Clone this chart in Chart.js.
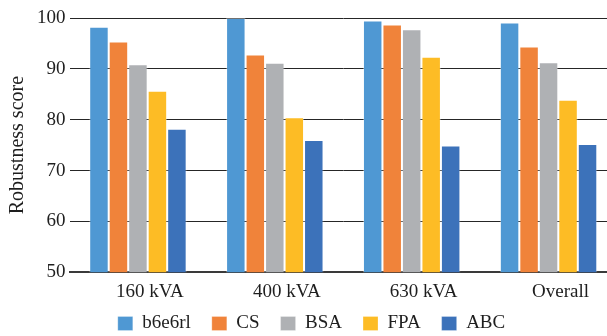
<!DOCTYPE html>
<html>
<head>
<meta charset="utf-8">
<script src="https://cdn.jsdelivr.net/npm/chart.js@4.4.1/dist/chart.umd.min.js"></script>
<style>
  html, body { margin: 0; padding: 0; background: #fff; overflow: hidden; }
  #wrap { width: 617px; height: 336px; position: relative; }
</style>
</head>
<body>
<div id="wrap"><canvas id="chart"></canvas></div>
<script>
// Transformer groups on the x axis
const categories = ['160 kVA', '400 kVA', '630 kVA', 'Overall'];

// Robustness score of each algorithm per group
const b6e6rl = [98.3, 100.0, 99.5, 99.1];
const cs     = [95.4, 92.8, 98.7, 94.4];
const bsa    = [90.9, 91.2, 97.8, 91.3];
const fpa    = [85.7, 80.5, 92.4, 83.9];
const abc    = [78.2, 76.0, 74.9, 75.2];

const seriesNames = ['b6e6rl', 'CS', 'BSA', 'FPA', 'ABC'];
const seriesValues = [b6e6rl, cs, bsa, fpa, abc];
const seriesColors = ['#4F98D3', '#F0833A', '#AFB1B4', '#FDBC25', '#3C72BA'];

// Y axis range and step
const yMin = 50, yMax = 100, yStep = 10;

const FONT = "'Liberation Serif', 'Times New Roman', serif";
const TEXT = '#1e1e1e';

// Pull the legend row up so it sits tight under the category labels
const LEGEND_LIFT = 18;
const liftLegend = {
  id: 'liftLegend',
  afterLayout(chart) {
    const lg = chart.legend;
    if (lg) { lg.top -= LEGEND_LIFT; lg.bottom -= LEGEND_LIFT; }
  }
};

new Chart(document.getElementById('chart'), {
  type: 'bar',
  data: {
    labels: categories,
    datasets: seriesNames.map((name, i) => ({
      label: name,
      data: seriesValues[i],
      backgroundColor: seriesColors[i],
      borderColor: 'rgba(255,255,255,0.35)',
      borderWidth: { left: 1, right: 1, top: 1, bottom: 0 },
      borderSkipped: 'bottom',
      categoryPercentage: 0.712,
      barPercentage: 1.0
    }))
  },
  plugins: [liftLegend],
  options: {
    responsive: true,
    maintainAspectRatio: false,
    animation: false,
    layout: { padding: { left: 6, right: 0, top: 18, bottom: -25 } },
    plugins: {
      legend: {
        position: 'bottom',
        labels: {
          font: { family: FONT, size: 19 },
          color: TEXT,
          boxWidth: 15,
          boxHeight: 14,
          padding: 21
        }
      },
      tooltip: { enabled: false }
    },
    scales: {
      x: {
        grid: { display: false, drawTicks: false },
        border: { display: true, color: '#3a3a3a', width: 2 },
        ticks: {
          font: { family: FONT, size: 19 },
          color: TEXT,
          labelOffset: 12,
          padding: 8
        }
      },
      y: {
        min: yMin,
        max: yMax,
        grid: { color: '#262626', lineWidth: 1, drawTicks: false },
        border: { display: false },
        ticks: {
          stepSize: yStep,
          font: { family: FONT, size: 19 },
          color: TEXT,
          padding: 4
        },
        title: {
          display: true,
          text: 'Robustness score',
          font: { family: FONT, size: 20 },
          color: TEXT,
          padding: { top: 0, bottom: 3 }
        }
      }
    }
  }
});
</script>
</body>
</html>
